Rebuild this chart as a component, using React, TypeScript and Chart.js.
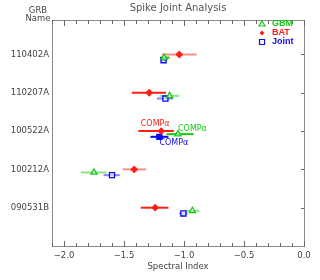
import React, { useEffect, useRef } from "react";
import { Chart, registerables } from "chart.js";

Chart.register(...registerables);

// ---- data ----
const grbNames = ["090531B", "100212A", "100522A", "110207A", "110402A"];
const xTicks = [-2.0, -1.5, -1.0, -0.5, 0.0];

const gbmIndex = [-0.93, -1.75, -1.05, -1.12, -1.165];
const gbmLow = [-0.99, -1.86, -1.145, -1.205, -1.2];
const gbmHigh = [-0.87, -1.645, -0.92, -1.04, -1.12];

const batIndex = [-1.24, -1.415, -1.19, -1.29, -1.04];
const batLow = [-1.36, -1.51, -1.38, -1.435, -1.185];
const batHigh = [-1.13, -1.315, -1.085, -1.15, -0.895];

const jointIndex = [-1.005, -1.6, -1.205, -1.155, -1.17];
const jointLow = [-1.04, -1.67, -1.28, -1.225, -1.195];
const jointHigh = [-0.97, -1.535, -1.13, -1.09, -1.145];

const gbmModel = ["", "", "COMPα", "", ""];
const batModel = ["", "", "COMPα", "", ""];
const jointModel = ["", "", "COMPα", "", ""];

// ---- styling ----
const GREEN = "rgb(20,200,20)";
const RED = "rgb(255,30,20)";
const BLUE = "rgb(10,10,235)";
const gbmFaded = [true, true, false, true, false];
const batFaded = [false, true, false, false, true];
const jointFaded = [true, true, false, true, false];

const fade = (c: string, f: boolean) =>
  f ? c.replace("rgb(", "rgba(").replace(")", ",0.5)") : c;

const series = [
  { label: "GBM", color: GREEN, idx: gbmIndex, lo: gbmLow, hi: gbmHigh, off: -0.08, faded: gbmFaded, model: gbmModel, style: "triangle", r: 3.5 },
  { label: "BAT", color: RED, idx: batIndex, lo: batLow, hi: batHigh, off: 0, faded: batFaded, model: batModel, style: "rectRot", r: 3 },
  { label: "Joint", color: BLUE, idx: jointIndex, lo: jointLow, hi: jointHigh, off: -0.15, faded: jointFaded, model: jointModel, style: "rect", r: 3.6 },
];

const FONT = "DejaVu Sans";

function drawMarker(ctx: CanvasRenderingContext2D, style: string, x: number, y: number, color: string) {
  ctx.save();
  ctx.strokeStyle = color;
  ctx.fillStyle = color;
  ctx.lineWidth = 1.2;
  ctx.beginPath();
  if (style === "triangle") {
    ctx.moveTo(x, y - 3);
    ctx.lineTo(x + 3, y + 2);
    ctx.lineTo(x - 3, y + 2);
    ctx.closePath();
    ctx.stroke();
  } else if (style === "rectRot") {
    ctx.moveTo(x, y - 2.5);
    ctx.lineTo(x + 2.5, y);
    ctx.lineTo(x, y + 2.5);
    ctx.lineTo(x - 2.5, y);
    ctx.closePath();
    ctx.fill();
  } else {
    ctx.rect(x - 2.5, y - 2.5, 5, 5);
    ctx.stroke();
  }
  ctx.restore();
}

const customPlugin = {
  id: "custom",
  beforeDatasetsDraw(chart: any) {
    const { ctx, scales } = chart;
    const xs = scales.x;
    const ys = scales.y;
    ctx.save();
    // error bars
    ctx.lineWidth = 2;
    series.forEach((s) => {
      s.idx.forEach((_, i) => {
        const py = ys.getPixelForValue(i + 1 + s.off);
        ctx.strokeStyle = fade(s.color, s.faded[i]);
        ctx.beginPath();
        ctx.moveTo(xs.getPixelForValue(s.lo[i]), py);
        ctx.lineTo(xs.getPixelForValue(s.hi[i]), py);
        ctx.stroke();
      });
    });
    ctx.restore();
  },
  afterDraw(chart: any) {
    const { ctx, chartArea: a, scales } = chart;
    const xs = scales.x;
    const ys = scales.y;
    ctx.save();
    // frame
    ctx.strokeStyle = "#8a8a8a";
    ctx.lineWidth = 1;
    ctx.strokeRect(a.left + 0.5, a.top + 0.5, a.right - a.left, a.bottom - a.top);
    // x ticks top & bottom
    ctx.fillStyle = "#6a6a6a";
    for (let i = -21; i <= 0; i++) {
      const px = Math.round(xs.getPixelForValue(i / 10));
      const len = i % 5 === 0 ? 6 : 4;
      ctx.fillRect(px, a.bottom - len + 1, 1, len);
      ctx.fillRect(px, a.top, 1, len);
    }
    // right ticks
    grbNames.forEach((_, i) => {
      const py = Math.round(ys.getPixelForValue(i + 1));
      ctx.fillRect(a.right - 3, py, 3, 1);
    });

    // model annotations
    ctx.font = `8px ${FONT}`;
    ctx.textBaseline = "middle";
    series.forEach((s) => {
      s.model.forEach((m, i) => {
        if (!m) return;
        const px = xs.getPixelForValue(s.idx[i]);
        const py = ys.getPixelForValue(i + 1 + s.off);
        ctx.fillStyle = s.color;
        if (s.label === "BAT") {
          ctx.textAlign = "center";
          ctx.fillText(m, px - 6, py - 7);
        } else if (s.label === "GBM") {
          ctx.textAlign = "left";
          ctx.fillText(m, px, py - 5);
        } else {
          ctx.textAlign = "left";
          ctx.fillText(m, px, py + 6);
        }
      });
    });
    // legend
    ctx.font = `bold 9px "Liberation Sans", Arial`;
    ctx.textAlign = "left";
    series.forEach((s, k) => {
      const y = a.top + 4 + k * 9;
      drawMarker(ctx, s.style, a.left + 210, y, s.color);
      ctx.fillStyle = s.color;
      ctx.fillText(s.label, a.left + 220, y);
    });
    // title
    ctx.fillStyle = "#555";
    ctx.font = `10px ${FONT}`;
    ctx.textAlign = "center";
    ctx.fillText("Spike Joint Analysis", (a.left + a.right) / 2, 8);
    // y title
    ctx.font = `8.5px ${FONT}`;
    ctx.fillStyle = "#444";
    ctx.fillText("GRB", 38, 11);
    ctx.fillText("Name", 38, 18.5);
    // x title
    ctx.fillText("Spectral Index", (a.left + a.right) / 2, 267);
    ctx.restore();
  },
};

export default function App() {
  const ref = useRef<HTMLCanvasElement>(null);
  useEffect(() => {
    if (!ref.current) return;
    const datasets = series.map((s) => ({
      label: s.label,
      data: s.idx.map((v, i) => ({ x: v, y: i + 1 + s.off })),
      pointStyle: s.style,
      pointRadius: s.r,
      borderColor: s.color,
      backgroundColor:
        s.label === "BAT"
          ? s.color
          : s.idx.map((_, i) => (i === 2 && s.label === "Joint" ? s.color : "rgba(255,255,255,0.6)")),
      pointBorderWidth: 1.3,
      showLine: false,
    }));
    const chart = new Chart(ref.current, {
      type: "scatter",
      data: { datasets: datasets as any },
      plugins: [customPlugin as any],
      options: {
        animation: false,
        responsive: false,
        layout: { padding: { top: 20, right: 16, left: 0, bottom: 0 } },
        plugins: { legend: { display: false }, tooltip: { enabled: false } },
        scales: {
          x: {
            type: "linear",
            min: -2.1,
            max: 0,
            afterFit: (s: any) => {
              s.height = 34;
            },
            grid: { display: false, drawTicks: false, tickLength: 0 },
            border: { display: false },
            afterBuildTicks: (s: any) => {
              s.ticks = xTicks.map((v) => ({ value: v }));
            },
            ticks: {
              padding: 5,
              color: "#444",
              font: { family: FONT, size: 8.5 },
              maxRotation: 0,
              callback: (v: any) => Number(v).toFixed(1).replace("-", "−"),
            },
          },
          y: {
            type: "linear",
            min: 0,
            max: 5.9,
            afterFit: (s: any) => {
              s.width = 52;
            },
            grid: { display: false, drawTicks: false, tickLength: 0 },
            border: { display: false },
            afterBuildTicks: (s: any) => {
              s.ticks = grbNames.map((_, i) => ({ value: i + 1 }));
            },
            ticks: {
              padding: 3,
              color: "#444",
              font: { family: FONT, size: 8.5 },
              callback: (v: any) => grbNames[Math.round(Number(v)) - 1] ?? "",
            },
          },
        },
      },
    });
    return () => chart.destroy();
  }, []);
  return (
    <div style={{ position: "absolute", left: 0, top: 0, width: 320, height: 280, background: "#fff" }}>
      <canvas ref={ref} width={320} height={280} style={{ width: 320, height: 280 }} />
    </div>
  );
}
